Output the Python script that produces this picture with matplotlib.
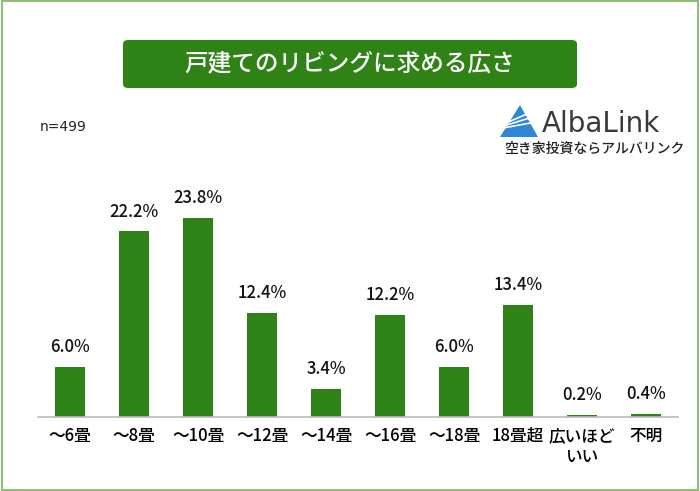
import matplotlib

matplotlib.use("Agg")
import matplotlib.pyplot as plt
from matplotlib.patches import FancyBboxPatch, Polygon, Rectangle

plt.rcParams["font.family"] = ["Noto Sans CJK JP", "DejaVu Sans"]

categories = ["～6畳", "～8畳", "～10畳", "～12畳", "～14畳", "～16畳", "～18畳", "18畳超", "広いほど\nいい", "不明"]
values = [6.0, 22.2, 23.8, 12.4, 3.4, 12.2, 6.0, 13.4, 0.2, 0.4]
title = "戸建てのリビングに求める広さ"
n_label = "n=499"

GREEN = "#2E8216"
BORDER = "#8DBF78"

fig = plt.figure(figsize=(7.0, 4.91), dpi=100, facecolor="white")

# outer frame
fig.patches.append(Rectangle((0.003, 0.003), 0.994, 0.994, transform=fig.transFigure,
                             fill=False, edgecolor=BORDER, lw=1.5))

# title box
fig.patches.append(FancyBboxPatch((123 / 700, 1 - 88 / 491), 454 / 700, 48 / 491,
                                  boxstyle="round,pad=0,rounding_size=0.008",
                                  transform=fig.transFigure, facecolor=GREEN, edgecolor="none"))
fig.text(350 / 700, 1 - 64 / 491, title, color="white", fontsize=17, ha="center", va="center",
         weight="medium")

fig.text(40 / 700, 1 - 127 / 491, n_label, fontsize=10, ha="left", va="center", color="#222222",
         family=["DejaVu Sans"])

# logo
tri = Polygon([(500 / 700, 1 - 137 / 491), (520 / 700, 1 - 105 / 491), (538 / 700, 1 - 137 / 491)],
              closed=True, transform=fig.transFigure, facecolor="#2F86D6", edgecolor="none")
fig.patches.append(tri)
for dy in (0, 6, 12):
    fig.lines.append(plt.Line2D([503 / 700, 536 / 700], [1 - (128 - dy * 0.3) / 491, 1 - (122 - dy) / 491],
                                transform=fig.transFigure, color="white", lw=1.2))
fig.text(542 / 700, 1 - 124 / 491, "AlbaLink", fontsize=20, color="#3A3A3A", ha="left", va="center",
         family=["DejaVu Sans"])
fig.text(594 / 700, 1 - 149 / 491, "空き家投資ならアルバリンク", fontsize=10, color="#222222",
         ha="center", va="center", weight="medium")

ax = fig.add_axes([38 / 700, (491 - 417) / 491, 640 / 700, 267 / 491])
x = range(len(categories))
bars = ax.bar(x, values, width=0.47, color=GREEN)
ax.set_xlim(-0.5, len(categories) - 0.5)
ax.set_ylim(0, 267 / 8.36)
for rect, v in zip(bars, values):
    ax.text(rect.get_x() + rect.get_width() / 2, v + 1.3, f"{v:.1f}%", ha="center", va="bottom",
            fontsize=12, color="#111111", weight="medium")
ax.set_xticks(list(x))
ax.set_xticklabels(categories, fontsize=12, linespacing=1.3, weight="medium")
ax.tick_params(axis="x", length=0, pad=7)
ax.set_yticks([])
for side in ("top", "right", "left"):
    ax.spines[side].set_visible(False)
ax.spines["bottom"].set_color("#BBBBBB")
ax.spines["bottom"].set_linewidth(1.2)

fig.savefig("out.png", dpi=100, facecolor="white")
